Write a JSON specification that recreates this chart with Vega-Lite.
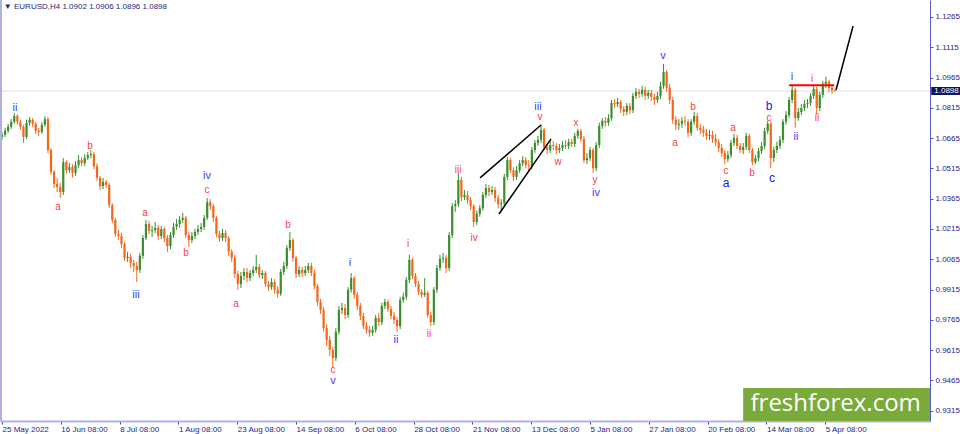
{
  "$schema": "https://vega.github.io/schema/vega-lite/v6.json",
  "width": 930,
  "height": 421,
  "autosize": {"type": "none"},
  "padding": {"left": 0, "top": 0, "right": 30, "bottom": 13},
  "background": "white",
  "config": {
    "view": {"stroke": null},
    "font": "Liberation Sans",
    "axis": {"labelOverlap": false}
  },
  "datasets": {
    "candles": [
      {"b":0,"o":1.0671,"h":1.0696,"l":1.0656,"c":1.0681},
      {"b":5,"o":1.0681,"h":1.0716,"l":1.0671,"c":1.0701},
      {"b":10,"o":1.0701,"h":1.0736,"l":1.0691,"c":1.0721},
      {"b":15,"o":1.0721,"h":1.0759,"l":1.0711,"c":1.0746},
      {"b":20,"o":1.0746,"h":1.0789,"l":1.0736,"c":1.0774},
      {"b":25,"o":1.0774,"h":1.0784,"l":1.0731,"c":1.0746},
      {"b":30,"o":1.0746,"h":1.0756,"l":1.0706,"c":1.0721},
      {"b":35,"o":1.0721,"h":1.0731,"l":1.0641,"c":1.0671},
      {"b":40,"o":1.0671,"h":1.0756,"l":1.0661,"c":1.0741},
      {"b":45,"o":1.0741,"h":1.0769,"l":1.0726,"c":1.0756},
      {"b":50,"o":1.0756,"h":1.0764,"l":1.0721,"c":1.0736},
      {"b":55,"o":1.0736,"h":1.0746,"l":1.0686,"c":1.0701},
      {"b":60,"o":1.0701,"h":1.0716,"l":1.0676,"c":1.0696},
      {"b":65,"o":1.0696,"h":1.0746,"l":1.0686,"c":1.0731},
      {"b":70,"o":1.0731,"h":1.0774,"l":1.0721,"c":1.0759},
      {"b":75,"o":1.0759,"h":1.0769,"l":1.0591,"c":1.0606},
      {"b":80,"o":1.0606,"h":1.0616,"l":1.0483,"c":1.0498},
      {"b":85,"o":1.0498,"h":1.0506,"l":1.0418,"c":1.0438},
      {"b":90,"o":1.0438,"h":1.0468,"l":1.0398,"c":1.0423},
      {"b":95,"o":1.0423,"h":1.0443,"l":1.0368,"c":1.0398},
      {"b":100,"o":1.0398,"h":1.0566,"l":1.0383,"c":1.0546},
      {"b":105,"o":1.0546,"h":1.0556,"l":1.0488,"c":1.0506},
      {"b":110,"o":1.0506,"h":1.0541,"l":1.0493,"c":1.0521},
      {"b":115,"o":1.0521,"h":1.0536,"l":1.0468,"c":1.0493},
      {"b":120,"o":1.0493,"h":1.0551,"l":1.0478,"c":1.0531},
      {"b":125,"o":1.0531,"h":1.0581,"l":1.0516,"c":1.0556},
      {"b":130,"o":1.0556,"h":1.0571,"l":1.0526,"c":1.0541},
      {"b":135,"o":1.0541,"h":1.0586,"l":1.0526,"c":1.0566},
      {"b":140,"o":1.0566,"h":1.0596,"l":1.0556,"c":1.0581},
      {"b":145,"o":1.0581,"h":1.0606,"l":1.0566,"c":1.0586},
      {"b":150,"o":1.0586,"h":1.0596,"l":1.0511,"c":1.0526},
      {"b":155,"o":1.0526,"h":1.0541,"l":1.0453,"c":1.0468},
      {"b":160,"o":1.0468,"h":1.0478,"l":1.0408,"c":1.0428},
      {"b":165,"o":1.0428,"h":1.0468,"l":1.0413,"c":1.0448},
      {"b":170,"o":1.0448,"h":1.0458,"l":1.0418,"c":1.0433},
      {"b":175,"o":1.0433,"h":1.0443,"l":1.0318,"c":1.0333},
      {"b":180,"o":1.0333,"h":1.0343,"l":1.0245,"c":1.0260},
      {"b":185,"o":1.0260,"h":1.0270,"l":1.0175,"c":1.0190},
      {"b":190,"o":1.0190,"h":1.0210,"l":1.0160,"c":1.0180},
      {"b":195,"o":1.0180,"h":1.0195,"l":1.0120,"c":1.0140},
      {"b":200,"o":1.0140,"h":1.0150,"l":1.0057,"c":1.0072},
      {"b":205,"o":1.0072,"h":1.0102,"l":1.0052,"c":1.0077},
      {"b":210,"o":1.0077,"h":1.0092,"l":1.0022,"c":1.0047},
      {"b":215,"o":1.0047,"h":1.0062,"l":1.0002,"c":1.0032},
      {"b":220,"o":1.0032,"h":1.0052,"l":0.9952,"c":1.0012},
      {"b":225,"o":1.0012,"h":1.0097,"l":0.9997,"c":1.0082},
      {"b":230,"o":1.0082,"h":1.0185,"l":1.0067,"c":1.0170},
      {"b":235,"o":1.0170,"h":1.0260,"l":1.0160,"c":1.0240},
      {"b":240,"o":1.0240,"h":1.0255,"l":1.0190,"c":1.0205},
      {"b":245,"o":1.0205,"h":1.0230,"l":1.0175,"c":1.0210},
      {"b":250,"o":1.0210,"h":1.0250,"l":1.0195,"c":1.0220},
      {"b":255,"o":1.0220,"h":1.0235,"l":1.0160,"c":1.0180},
      {"b":260,"o":1.0180,"h":1.0230,"l":1.0165,"c":1.0215},
      {"b":265,"o":1.0215,"h":1.0225,"l":1.0150,"c":1.0170},
      {"b":270,"o":1.0170,"h":1.0185,"l":1.0102,"c":1.0130},
      {"b":275,"o":1.0130,"h":1.0200,"l":1.0115,"c":1.0185},
      {"b":280,"o":1.0185,"h":1.0245,"l":1.0170,"c":1.0225},
      {"b":285,"o":1.0225,"h":1.0265,"l":1.0210,"c":1.0240},
      {"b":290,"o":1.0240,"h":1.0280,"l":1.0220,"c":1.0260},
      {"b":295,"o":1.0260,"h":1.0295,"l":1.0245,"c":1.0270},
      {"b":300,"o":1.0270,"h":1.0280,"l":1.0170,"c":1.0185},
      {"b":305,"o":1.0185,"h":1.0200,"l":1.0125,"c":1.0160},
      {"b":310,"o":1.0160,"h":1.0200,"l":1.0145,"c":1.0180},
      {"b":315,"o":1.0180,"h":1.0215,"l":1.0165,"c":1.0200},
      {"b":320,"o":1.0200,"h":1.0235,"l":1.0185,"c":1.0215},
      {"b":325,"o":1.0215,"h":1.0245,"l":1.0200,"c":1.0225},
      {"b":330,"o":1.0225,"h":1.0285,"l":1.0210,"c":1.0270},
      {"b":335,"o":1.0270,"h":1.0368,"l":1.0260,"c":1.0348},
      {"b":340,"o":1.0348,"h":1.0363,"l":1.0309,"c":1.0328},
      {"b":345,"o":1.0328,"h":1.0338,"l":1.0250,"c":1.0270},
      {"b":350,"o":1.0270,"h":1.0280,"l":1.0175,"c":1.0190},
      {"b":355,"o":1.0190,"h":1.0205,"l":1.0150,"c":1.0170},
      {"b":360,"o":1.0170,"h":1.0215,"l":1.0155,"c":1.0195},
      {"b":365,"o":1.0195,"h":1.0210,"l":1.0150,"c":1.0170},
      {"b":370,"o":1.0170,"h":1.0180,"l":1.0082,"c":1.0102},
      {"b":375,"o":1.0102,"h":1.0115,"l":1.0052,"c":1.0072},
      {"b":380,"o":1.0072,"h":1.0087,"l":0.9972,"c":0.9992},
      {"b":385,"o":0.9992,"h":1.0007,"l":0.9914,"c":0.9942},
      {"b":390,"o":0.9942,"h":1.0002,"l":0.9922,"c":0.9982},
      {"b":395,"o":0.9982,"h":1.0022,"l":0.9962,"c":1.0002},
      {"b":400,"o":1.0002,"h":1.0022,"l":0.9952,"c":0.9972},
      {"b":405,"o":0.9972,"h":1.0012,"l":0.9957,"c":0.9997},
      {"b":410,"o":0.9997,"h":1.0032,"l":0.9982,"c":1.0012},
      {"b":415,"o":1.0012,"h":1.0087,"l":0.9997,"c":1.0027},
      {"b":420,"o":1.0027,"h":1.0042,"l":0.9972,"c":0.9987},
      {"b":425,"o":0.9987,"h":1.0012,"l":0.9967,"c":0.9997},
      {"b":430,"o":0.9997,"h":1.0007,"l":0.9927,"c":0.9942},
      {"b":435,"o":0.9942,"h":0.9957,"l":0.9909,"c":0.9927},
      {"b":440,"o":0.9927,"h":0.9972,"l":0.9914,"c":0.9952},
      {"b":445,"o":0.9952,"h":0.9967,"l":0.9894,"c":0.9914},
      {"b":450,"o":0.9914,"h":0.9932,"l":0.9874,"c":0.9894},
      {"b":455,"o":0.9894,"h":1.0017,"l":0.9884,"c":1.0002},
      {"b":460,"o":1.0002,"h":1.0052,"l":0.9987,"c":1.0032},
      {"b":465,"o":1.0032,"h":1.0135,"l":1.0017,"c":1.0120},
      {"b":470,"o":1.0120,"h":1.0200,"l":1.0107,"c":1.0160},
      {"b":475,"o":1.0160,"h":1.0170,"l":1.0052,"c":1.0072},
      {"b":480,"o":1.0072,"h":1.0082,"l":0.9972,"c":0.9992},
      {"b":485,"o":0.9992,"h":1.0032,"l":0.9977,"c":1.0012},
      {"b":490,"o":1.0012,"h":1.0027,"l":0.9977,"c":0.9997},
      {"b":495,"o":0.9997,"h":1.0032,"l":0.9982,"c":1.0012},
      {"b":500,"o":1.0012,"h":1.0047,"l":0.9997,"c":1.0032},
      {"b":505,"o":1.0032,"h":1.0047,"l":0.9982,"c":0.9997},
      {"b":510,"o":0.9997,"h":1.0012,"l":0.9917,"c":0.9932},
      {"b":515,"o":0.9932,"h":0.9942,"l":0.9834,"c":0.9854},
      {"b":520,"o":0.9854,"h":0.9869,"l":0.9794,"c":0.9814},
      {"b":525,"o":0.9814,"h":0.9829,"l":0.9706,"c":0.9724},
      {"b":530,"o":0.9724,"h":0.9744,"l":0.9636,"c":0.9666},
      {"b":535,"o":0.9666,"h":0.9686,"l":0.9586,"c":0.9616},
      {"b":540,"o":0.9616,"h":0.9631,"l":0.9531,"c":0.9576},
      {"b":545,"o":0.9576,"h":0.9724,"l":0.9561,"c":0.9706},
      {"b":550,"o":0.9706,"h":0.9834,"l":0.9691,"c":0.9814},
      {"b":555,"o":0.9814,"h":0.9849,"l":0.9794,"c":0.9824},
      {"b":560,"o":0.9824,"h":0.9844,"l":0.9769,"c":0.9789},
      {"b":565,"o":0.9789,"h":0.9927,"l":0.9774,"c":0.9914},
      {"b":570,"o":0.9914,"h":0.9997,"l":0.9899,"c":0.9972},
      {"b":575,"o":0.9972,"h":0.9982,"l":0.9869,"c":0.9889},
      {"b":580,"o":0.9889,"h":0.9904,"l":0.9814,"c":0.9834},
      {"b":585,"o":0.9834,"h":0.9849,"l":0.9764,"c":0.9784},
      {"b":590,"o":0.9784,"h":0.9799,"l":0.9719,"c":0.9734},
      {"b":595,"o":0.9734,"h":0.9754,"l":0.9696,"c":0.9716},
      {"b":600,"o":0.9716,"h":0.9734,"l":0.9681,"c":0.9701},
      {"b":605,"o":0.9701,"h":0.9734,"l":0.9686,"c":0.9716},
      {"b":610,"o":0.9716,"h":0.9789,"l":0.9701,"c":0.9774},
      {"b":615,"o":0.9774,"h":0.9799,"l":0.9734,"c":0.9754},
      {"b":620,"o":0.9754,"h":0.9849,"l":0.9739,"c":0.9834},
      {"b":625,"o":0.9834,"h":0.9869,"l":0.9819,"c":0.9854},
      {"b":630,"o":0.9854,"h":0.9864,"l":0.9804,"c":0.9819},
      {"b":635,"o":0.9819,"h":0.9834,"l":0.9769,"c":0.9784},
      {"b":640,"o":0.9784,"h":0.9804,"l":0.9744,"c":0.9764},
      {"b":645,"o":0.9764,"h":0.9779,"l":0.9706,"c":0.9734},
      {"b":650,"o":0.9734,"h":0.9879,"l":0.9719,"c":0.9864},
      {"b":655,"o":0.9864,"h":0.9899,"l":0.9849,"c":0.9879},
      {"b":660,"o":0.9879,"h":0.9977,"l":0.9864,"c":0.9962},
      {"b":665,"o":0.9962,"h":1.0087,"l":0.9947,"c":1.0062},
      {"b":670,"o":1.0062,"h":1.0072,"l":0.9967,"c":0.9982},
      {"b":675,"o":0.9982,"h":0.9997,"l":0.9927,"c":0.9942},
      {"b":680,"o":0.9942,"h":0.9957,"l":0.9889,"c":0.9904},
      {"b":685,"o":0.9904,"h":0.9917,"l":0.9874,"c":0.9889},
      {"b":690,"o":0.9889,"h":0.9972,"l":0.9879,"c":0.9899},
      {"b":695,"o":0.9899,"h":0.9909,"l":0.9774,"c":0.9789},
      {"b":700,"o":0.9789,"h":0.9804,"l":0.9734,"c":0.9754},
      {"b":705,"o":0.9754,"h":0.9927,"l":0.9739,"c":0.9914},
      {"b":710,"o":0.9914,"h":1.0037,"l":0.9899,"c":1.0022},
      {"b":715,"o":1.0022,"h":1.0087,"l":1.0007,"c":1.0067},
      {"b":720,"o":1.0067,"h":1.0097,"l":1.0047,"c":1.0072},
      {"b":725,"o":1.0072,"h":1.0087,"l":0.9997,"c":1.0022},
      {"b":730,"o":1.0022,"h":1.0200,"l":1.0007,"c":1.0185},
      {"b":735,"o":1.0185,"h":1.0343,"l":1.0170,"c":1.0328},
      {"b":740,"o":1.0328,"h":1.0358,"l":1.0300,"c":1.0338},
      {"b":745,"o":1.0338,"h":1.0493,"l":1.0323,"c":1.0458},
      {"b":750,"o":1.0458,"h":1.0473,"l":1.0353,"c":1.0373},
      {"b":755,"o":1.0373,"h":1.0408,"l":1.0358,"c":1.0383},
      {"b":760,"o":1.0383,"h":1.0403,"l":1.0338,"c":1.0358},
      {"b":765,"o":1.0358,"h":1.0373,"l":1.0309,"c":1.0328},
      {"b":770,"o":1.0328,"h":1.0338,"l":1.0225,"c":1.0250},
      {"b":775,"o":1.0250,"h":1.0305,"l":1.0235,"c":1.0290},
      {"b":780,"o":1.0290,"h":1.0333,"l":1.0275,"c":1.0318},
      {"b":785,"o":1.0318,"h":1.0398,"l":1.0305,"c":1.0383},
      {"b":790,"o":1.0383,"h":1.0438,"l":1.0368,"c":1.0418},
      {"b":795,"o":1.0418,"h":1.0433,"l":1.0378,"c":1.0398},
      {"b":800,"o":1.0398,"h":1.0428,"l":1.0383,"c":1.0408},
      {"b":805,"o":1.0408,"h":1.0423,"l":1.0348,"c":1.0368},
      {"b":810,"o":1.0368,"h":1.0383,"l":1.0318,"c":1.0338},
      {"b":815,"o":1.0338,"h":1.0363,"l":1.0309,"c":1.0343},
      {"b":820,"o":1.0343,"h":1.0488,"l":1.0328,"c":1.0473},
      {"b":825,"o":1.0473,"h":1.0571,"l":1.0458,"c":1.0556},
      {"b":830,"o":1.0556,"h":1.0566,"l":1.0493,"c":1.0506},
      {"b":835,"o":1.0506,"h":1.0521,"l":1.0453,"c":1.0473},
      {"b":840,"o":1.0473,"h":1.0526,"l":1.0458,"c":1.0506},
      {"b":845,"o":1.0506,"h":1.0556,"l":1.0493,"c":1.0541},
      {"b":850,"o":1.0541,"h":1.0576,"l":1.0526,"c":1.0556},
      {"b":855,"o":1.0556,"h":1.0571,"l":1.0516,"c":1.0531},
      {"b":860,"o":1.0531,"h":1.0556,"l":1.0506,"c":1.0526},
      {"b":865,"o":1.0526,"h":1.0621,"l":1.0511,"c":1.0606},
      {"b":870,"o":1.0606,"h":1.0656,"l":1.0591,"c":1.0641},
      {"b":875,"o":1.0641,"h":1.0676,"l":1.0626,"c":1.0656},
      {"b":880,"o":1.0656,"h":1.0731,"l":1.0641,"c":1.0706},
      {"b":885,"o":1.0706,"h":1.0716,"l":1.0606,"c":1.0621},
      {"b":890,"o":1.0621,"h":1.0641,"l":1.0586,"c":1.0606},
      {"b":895,"o":1.0606,"h":1.0651,"l":1.0591,"c":1.0631},
      {"b":900,"o":1.0631,"h":1.0651,"l":1.0606,"c":1.0626},
      {"b":905,"o":1.0626,"h":1.0641,"l":1.0586,"c":1.0606},
      {"b":910,"o":1.0606,"h":1.0636,"l":1.0591,"c":1.0616},
      {"b":915,"o":1.0616,"h":1.0651,"l":1.0601,"c":1.0631},
      {"b":920,"o":1.0631,"h":1.0656,"l":1.0611,"c":1.0626},
      {"b":925,"o":1.0626,"h":1.0661,"l":1.0611,"c":1.0646},
      {"b":930,"o":1.0646,"h":1.0661,"l":1.0621,"c":1.0636},
      {"b":935,"o":1.0636,"h":1.0691,"l":1.0621,"c":1.0676},
      {"b":940,"o":1.0676,"h":1.0711,"l":1.0661,"c":1.0701},
      {"b":945,"o":1.0701,"h":1.0711,"l":1.0646,"c":1.0661},
      {"b":950,"o":1.0661,"h":1.0676,"l":1.0541,"c":1.0556},
      {"b":955,"o":1.0556,"h":1.0591,"l":1.0536,"c":1.0566},
      {"b":960,"o":1.0566,"h":1.0621,"l":1.0551,"c":1.0606},
      {"b":965,"o":1.0606,"h":1.0616,"l":1.0493,"c":1.0516},
      {"b":970,"o":1.0516,"h":1.0646,"l":1.0501,"c":1.0631},
      {"b":975,"o":1.0631,"h":1.0741,"l":1.0616,"c":1.0726},
      {"b":980,"o":1.0726,"h":1.0764,"l":1.0711,"c":1.0751},
      {"b":985,"o":1.0751,"h":1.0769,"l":1.0721,"c":1.0741},
      {"b":990,"o":1.0741,"h":1.0784,"l":1.0726,"c":1.0764},
      {"b":995,"o":1.0764,"h":1.0854,"l":1.0751,"c":1.0839},
      {"b":1000,"o":1.0839,"h":1.0859,"l":1.0814,"c":1.0834},
      {"b":1005,"o":1.0834,"h":1.0864,"l":1.0819,"c":1.0844},
      {"b":1010,"o":1.0844,"h":1.0854,"l":1.0789,"c":1.0809},
      {"b":1015,"o":1.0809,"h":1.0824,"l":1.0774,"c":1.0794},
      {"b":1020,"o":1.0794,"h":1.0839,"l":1.0779,"c":1.0824},
      {"b":1025,"o":1.0824,"h":1.0839,"l":1.0784,"c":1.0804},
      {"b":1030,"o":1.0804,"h":1.0889,"l":1.0789,"c":1.0874},
      {"b":1035,"o":1.0874,"h":1.0914,"l":1.0859,"c":1.0894},
      {"b":1040,"o":1.0894,"h":1.0909,"l":1.0864,"c":1.0884},
      {"b":1045,"o":1.0884,"h":1.0924,"l":1.0869,"c":1.0904},
      {"b":1050,"o":1.0904,"h":1.0919,"l":1.0854,"c":1.0874},
      {"b":1055,"o":1.0874,"h":1.0904,"l":1.0859,"c":1.0889},
      {"b":1060,"o":1.0889,"h":1.0904,"l":1.0849,"c":1.0869},
      {"b":1065,"o":1.0869,"h":1.0884,"l":1.0829,"c":1.0854},
      {"b":1070,"o":1.0854,"h":1.0894,"l":1.0839,"c":1.0874},
      {"b":1075,"o":1.0874,"h":1.0944,"l":1.0859,"c":1.0924},
      {"b":1080,"o":1.0924,"h":1.1032,"l":1.0909,"c":1.0992},
      {"b":1085,"o":1.0992,"h":1.1002,"l":1.0894,"c":1.0914},
      {"b":1090,"o":1.0914,"h":1.0934,"l":1.0834,"c":1.0854},
      {"b":1095,"o":1.0854,"h":1.0869,"l":1.0736,"c":1.0756},
      {"b":1100,"o":1.0756,"h":1.0774,"l":1.0706,"c":1.0731},
      {"b":1105,"o":1.0731,"h":1.0759,"l":1.0706,"c":1.0736},
      {"b":1110,"o":1.0736,"h":1.0769,"l":1.0716,"c":1.0751},
      {"b":1115,"o":1.0751,"h":1.0774,"l":1.0726,"c":1.0746},
      {"b":1120,"o":1.0746,"h":1.0759,"l":1.0671,"c":1.0691},
      {"b":1125,"o":1.0691,"h":1.0759,"l":1.0676,"c":1.0746},
      {"b":1130,"o":1.0746,"h":1.0794,"l":1.0731,"c":1.0774},
      {"b":1135,"o":1.0774,"h":1.0789,"l":1.0701,"c":1.0716},
      {"b":1140,"o":1.0716,"h":1.0736,"l":1.0686,"c":1.0706},
      {"b":1145,"o":1.0706,"h":1.0726,"l":1.0671,"c":1.0691},
      {"b":1150,"o":1.0691,"h":1.0711,"l":1.0656,"c":1.0676},
      {"b":1155,"o":1.0676,"h":1.0706,"l":1.0656,"c":1.0681},
      {"b":1160,"o":1.0681,"h":1.0701,"l":1.0641,"c":1.0661},
      {"b":1165,"o":1.0661,"h":1.0686,"l":1.0626,"c":1.0646},
      {"b":1170,"o":1.0646,"h":1.0661,"l":1.0596,"c":1.0616},
      {"b":1175,"o":1.0616,"h":1.0636,"l":1.0571,"c":1.0591},
      {"b":1180,"o":1.0591,"h":1.0606,"l":1.0536,"c":1.0561},
      {"b":1185,"o":1.0561,"h":1.0601,"l":1.0546,"c":1.0581},
      {"b":1190,"o":1.0581,"h":1.0656,"l":1.0566,"c":1.0641},
      {"b":1195,"o":1.0641,"h":1.0686,"l":1.0626,"c":1.0666},
      {"b":1200,"o":1.0666,"h":1.0681,"l":1.0611,"c":1.0626},
      {"b":1205,"o":1.0626,"h":1.0641,"l":1.0591,"c":1.0606},
      {"b":1210,"o":1.0606,"h":1.0641,"l":1.0586,"c":1.0621},
      {"b":1215,"o":1.0621,"h":1.0691,"l":1.0606,"c":1.0676},
      {"b":1220,"o":1.0676,"h":1.0686,"l":1.0591,"c":1.0606},
      {"b":1225,"o":1.0606,"h":1.0616,"l":1.0531,"c":1.0546},
      {"b":1230,"o":1.0546,"h":1.0581,"l":1.0536,"c":1.0566},
      {"b":1235,"o":1.0566,"h":1.0616,"l":1.0551,"c":1.0601},
      {"b":1240,"o":1.0601,"h":1.0646,"l":1.0586,"c":1.0626},
      {"b":1245,"o":1.0626,"h":1.0716,"l":1.0611,"c":1.0701},
      {"b":1250,"o":1.0701,"h":1.0751,"l":1.0686,"c":1.0736},
      {"b":1255,"o":1.0736,"h":1.0746,"l":1.0516,"c":1.0566},
      {"b":1260,"o":1.0566,"h":1.0621,"l":1.0546,"c":1.0606},
      {"b":1265,"o":1.0606,"h":1.0646,"l":1.0591,"c":1.0626},
      {"b":1270,"o":1.0626,"h":1.0676,"l":1.0611,"c":1.0656},
      {"b":1275,"o":1.0656,"h":1.0759,"l":1.0641,"c":1.0746},
      {"b":1280,"o":1.0746,"h":1.0799,"l":1.0731,"c":1.0779},
      {"b":1285,"o":1.0779,"h":1.0869,"l":1.0764,"c":1.0854},
      {"b":1290,"o":1.0854,"h":1.0924,"l":1.0839,"c":1.0904},
      {"b":1295,"o":1.0904,"h":1.0914,"l":1.0716,"c":1.0764},
      {"b":1300,"o":1.0764,"h":1.0814,"l":1.0751,"c":1.0794},
      {"b":1305,"o":1.0794,"h":1.0834,"l":1.0779,"c":1.0814},
      {"b":1310,"o":1.0814,"h":1.0854,"l":1.0799,"c":1.0834},
      {"b":1315,"o":1.0834,"h":1.0859,"l":1.0814,"c":1.0839},
      {"b":1320,"o":1.0839,"h":1.0889,"l":1.0824,"c":1.0874},
      {"b":1325,"o":1.0874,"h":1.0924,"l":1.0859,"c":1.0909},
      {"b":1330,"o":1.0909,"h":1.0919,"l":1.0779,"c":1.0814},
      {"b":1335,"o":1.0814,"h":1.0894,"l":1.0799,"c":1.0879},
      {"b":1340,"o":1.0879,"h":1.0949,"l":1.0864,"c":1.0934},
      {"b":1345,"o":1.0934,"h":1.0969,"l":1.0914,"c":1.0944},
      {"b":1350,"o":1.0944,"h":1.0954,"l":1.0894,"c":1.0914},
      {"b":1355,"o":1.0914,"h":1.0929,"l":1.0884,"c":1.0902},
      {"b":1360,"o":1.0902,"h":1.0906,"l":1.0896,"c":1.0898}
    ],
    "waves": [
      {"t":"ii","k":"major","b":21.2,"p":1.0814},
      {"t":"iii","k":"major","b":218.8,"p":0.9888},
      {"t":"iv","k":"major","b":334.7,"p":1.0477},
      {"t":"v","k":"major","b":540.4,"p":0.9462},
      {"t":"i","k":"major","b":568.2,"p":1.0047},
      {"t":"ii","k":"major","b":643.3,"p":0.9665},
      {"t":"iii","k":"major","b":875.1,"p":1.0819},
      {"t":"iv","k":"major","b":969.8,"p":1.0393},
      {"t":"v","k":"major","b":1079.2,"p":1.1072},
      {"t":"i","k":"major","b":1289.8,"p":1.0968},
      {"t":"ii","k":"major","b":1296.3,"p":1.0671},
      {"t":"a","k":"letter","b":1182,"p":1.0443},
      {"t":"b","k":"letter","b":1252.2,"p":1.0824},
      {"t":"c","k":"letter","b":1257.1,"p":1.0468},
      {"t":"a","k":"minor","b":91.4,"p":1.0324},
      {"t":"b","k":"minor","b":143.7,"p":1.0626},
      {"t":"a","k":"minor","b":233.5,"p":1.0294},
      {"t":"b","k":"minor","b":300.4,"p":1.0096},
      {"t":"c","k":"minor","b":334.7,"p":1.0408},
      {"t":"a","k":"minor","b":382,"p":0.9844},
      {"t":"b","k":"minor","b":466.9,"p":1.0235},
      {"t":"c","k":"minor","b":540.4,"p":0.9517},
      {"t":"i","k":"minor","b":662.9,"p":1.0141},
      {"t":"ii","k":"minor","b":697.1,"p":0.9695},
      {"t":"iii","k":"minor","b":744.5,"p":1.0507},
      {"t":"iv","k":"minor","b":770.6,"p":1.0170},
      {"t":"v","k":"minor","b":878.4,"p":1.0770},
      {"t":"w","k":"minor","b":907.8,"p":1.0547},
      {"t":"x","k":"minor","b":937.1,"p":1.0740},
      {"t":"y","k":"minor","b":968.2,"p":1.0458},
      {"t":"a","k":"minor","b":1098.8,"p":1.0641},
      {"t":"b","k":"minor","b":1128.2,"p":1.0819},
      {"t":"c","k":"minor","b":1182,"p":1.0502},
      {"t":"a","k":"minor","b":1193.5,"p":1.0715},
      {"t":"b","k":"minor","b":1224.5,"p":1.0492},
      {"t":"c","k":"minor","b":1252.2,"p":1.0765},
      {"t":"i","k":"minor","b":1322.4,"p":1.0958},
      {"t":"ii","k":"minor","b":1330.6,"p":1.0765}
    ],
    "lines": [
      {"g":"upper","b":780.4,"p":1.0468},
      {"g":"upper","b":880,"p":1.0730},
      {"g":"lower","b":811.4,"p":1.0289},
      {"g":"lower","b":896.3,"p":1.0661},
      {"g":"target","b":1361.6,"p":1.0903},
      {"g":"target","b":1389.4,"p":1.1220}
    ]
  },
  "layer": [
    {
      "data": {"values": [{"p": 1.0898}]},
      "mark": {"type": "rule", "color": "#dedede", "strokeWidth": 1},
      "encoding": {"y": {"field": "p", "type": "quantitative"}}
    },
    {
      "data": {"name": "candles"},
      "mark": {"type": "rule", "strokeWidth": 1},
      "encoding": {
        "x": {
          "field": "b",
          "type": "quantitative",
          "scale": {"domain": [-3.3, 1515], "nice": false, "zero": false},
          "axis": {
            "orient": "bottom",
            "title": null,
            "grid": false,
            "values": [0, 96, 192, 288, 384, 480, 576, 672, 768, 864, 960, 1056, 1152, 1248, 1344],
            "tickCount": 40,
            "labelExpr": "['25 May 2022','16 Jun 08:00','8 Jul 08:00','1 Aug 08:00','23 Aug 08:00','14 Sep 08:00','6 Oct 08:00','28 Oct 08:00','21 Nov 08:00','13 Dec 08:00','5 Jan 08:00','27 Jan 08:00','20 Feb 08:00','14 Mar 08:00','5 Apr 08:00'][round(datum.value / 96)]",
            "labelAlign": "left",
            "labelBaseline": "top",
            "labelPadding": 1,
            "labelFontSize": 8,
            "labelColor": "#24248a",
            "labelOverlap": false,
            "labelFlush": false,
            "labelBound": false,
            "tickSize": 3,
            "tickColor": "#3a3aa8",
            "domainColor": "#b0b0e4",
            "domainWidth": 2
          }
        },
        "y": {
          "field": "l",
          "type": "quantitative",
          "scale": {"domain": [0.9264, 1.1349], "nice": false, "zero": false},
          "axis": {
            "orient": "right",
            "title": null,
            "grid": false,
            "values": [0.9315, 0.9465, 0.9615, 0.9765, 0.9915, 1.0065, 1.0215, 1.0365, 1.0515, 1.0665, 1.0815, 1.0965, 1.1115, 1.1265],
            "tickCount": 40,
            "format": ".4f",
            "labelFontSize": 8,
            "labelColor": "#24248a",
            "labelPadding": 2,
            "labelOverlap": false,
            "labelFlush": false,
            "labelBound": false,
            "tickSize": 3,
            "tickColor": "#5a5ac8",
            "domainColor": "#5a5ac8"
          }
        },
        "y2": {"field": "h"},
        "color": {"condition": {"test": "datum.c >= datum.o", "value": "#3a8f2e"}, "value": "#f5661b"}
      }
    },
    {
      "data": {"name": "candles"},
      "mark": {"type": "rule", "strokeWidth": 2.2},
      "encoding": {
        "x": {"field": "b", "type": "quantitative"},
        "y": {"field": "o", "type": "quantitative"},
        "y2": {"field": "c"},
        "color": {"condition": {"test": "datum.c >= datum.o", "value": "#3a8f2e"}, "value": "#f5661b"}
      }
    },
    {
      "data": {"name": "lines"},
      "mark": {"type": "line", "color": "#000000", "strokeWidth": 1.5},
      "encoding": {
        "x": {"field": "b", "type": "quantitative"},
        "y": {"field": "p", "type": "quantitative"},
        "detail": {"field": "g"}
      }
    },
    {
      "data": {"values": [{"b": 1285, "p": 1.0927}, {"b": 1358.4, "p": 1.0927}]},
      "mark": {"type": "line", "color": "#ff0000", "strokeWidth": 2},
      "encoding": {
        "x": {"field": "b", "type": "quantitative"},
        "y": {"field": "p", "type": "quantitative"}
      }
    },
    {
      "data": {"name": "waves"},
      "mark": {"type": "text", "align": "center", "baseline": "middle", "font": "Liberation Sans"},
      "encoding": {
        "x": {"field": "b", "type": "quantitative"},
        "y": {"field": "p", "type": "quantitative"},
        "text": {"field": "t"},
        "color": {
          "field": "k",
          "type": "nominal",
          "scale": {"domain": ["minor", "major", "letter"], "range": ["#ff3b3b", "#3c3cff", "#1616e6"]},
          "legend": null
        },
        "size": {
          "field": "k",
          "type": "ordinal",
          "scale": {"domain": ["minor", "major", "letter"], "range": [10, 12, 14]},
          "legend": null
        }
      }
    },
    {
      "data": {"values": [{"x0": 1210, "x1": 1515, "y0": 0.9427, "y1": 0.9264}]},
      "mark": {"type": "rect", "color": "#7aab3a"},
      "encoding": {
        "x": {"field": "x0", "type": "quantitative"},
        "x2": {"field": "x1"},
        "y": {"field": "y0", "type": "quantitative"},
        "y2": {"field": "y1"}
      }
    },
    {
      "data": {"values": [{"t": "freshforex.com", "b": 1361, "p": 0.9313}]},
      "mark": {"type": "text", "color": "#ffffff", "font": "Open Sans", "fontSize": 24, "align": "center", "baseline": "alphabetic"},
      "encoding": {
        "x": {"field": "b", "type": "quantitative"},
        "y": {"field": "p", "type": "quantitative"},
        "text": {"field": "t"}
      }
    },
    {
      "data": {"values": [{"x0": 1517, "x1": 1570, "y0": 1.0918, "y1": 1.0878}]},
      "mark": {"type": "rect", "color": "#0c1660"},
      "encoding": {
        "x": {"field": "x0", "type": "quantitative"},
        "x2": {"field": "x1"},
        "y": {"field": "y0", "type": "quantitative"},
        "y2": {"field": "y1"}
      }
    },
    {
      "data": {"values": [{"t": "1.0898", "b": 1522, "p": 1.0898}]},
      "mark": {"type": "text", "color": "#ffffff", "fontSize": 8, "align": "left", "baseline": "middle"},
      "encoding": {
        "x": {"field": "b", "type": "quantitative"},
        "y": {"field": "p", "type": "quantitative"},
        "text": {"field": "t"}
      }
    },
    {
      "data": {"values": [{"t": "▼ EURUSD,H4  1.0902 1.0906 1.0896 1.0898", "b": 3, "p": 1.1314}]},
      "mark": {"type": "text", "color": "#1e1e78", "fontSize": 8, "align": "left", "baseline": "middle"},
      "encoding": {
        "x": {"field": "b", "type": "quantitative"},
        "y": {"field": "p", "type": "quantitative"},
        "text": {"field": "t"}
      }
    },
    {
      "data": {"values": [{"b": -1.7}]},
      "mark": {"type": "rule", "color": "#b0b0e4", "strokeWidth": 2},
      "encoding": {"x": {"field": "b", "type": "quantitative"}}
    }
  ]
}
